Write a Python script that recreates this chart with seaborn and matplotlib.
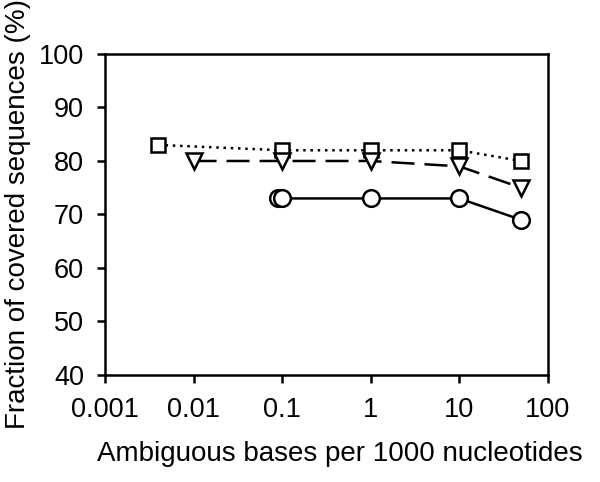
import matplotlib
matplotlib.use("Agg")
import matplotlib.pyplot as plt
import seaborn as sns
import pandas as pd

sq_x = [0.004, 0.1, 1, 10, 50]
sq_y = [83, 82, 82, 82, 80]
tri_x = [0.01, 0.1, 1, 10, 50]
tri_y = [80, 80, 80, 79, 75]
circ_x = [0.09, 0.1, 1, 10, 50]
circ_y = [73, 73, 73, 73, 69]

x_ticks = [0.001, 0.01, 0.1, 1, 10, 100]
x_tick_labels = ["0.001", "0.01", "0.1", "1", "10", "100"]
y_ticks = [40, 50, 60, 70, 80, 90, 100]

sns.set_style("white")
plt.rcParams["font.family"] = ["Liberation Sans", "DejaVu Sans"]
plt.rcParams["text.color"] = "black"
plt.rcParams["axes.labelcolor"] = "black"
plt.rcParams["xtick.color"] = "black"
plt.rcParams["ytick.color"] = "black"

fig = plt.figure(figsize=(6, 4.82), dpi=100)
ax = fig.add_axes([0.175, 0.222, 0.738, 0.666])

lw = 1.8
series = [
    (sq_x, sq_y, "s", 10.5, (1, 1.9)),
    (tri_x, tri_y, "v", 12, (9.2, 4)),
    (circ_x, circ_y, "o", 12, None),
]
for xs, ys, mk, ms, dash in series:
    df = pd.DataFrame({"x": xs, "y": ys})
    sns.lineplot(data=df, x="x", y="y", ax=ax, color="black", lw=lw,
                 marker=mk, markersize=ms, markerfacecolor="white",
                 markeredgecolor="black", markeredgewidth=1.8,
                 errorbar=None, legend=False)
    line = ax.lines[-1]
    if dash is not None:
        line.set_dashes(dash)

ax.set_xscale("log")
ax.set_xlim(0.001, 100)
ax.set_ylim(40, 100)
ax.set_xticks(x_ticks)
ax.set_xticklabels(x_tick_labels)
ax.set_yticks(y_ticks)
ax.minorticks_off()
ax.tick_params(axis="both", which="major", direction="out", length=6, width=1.8,
               labelsize=19.5, bottom=True, left=True, top=False, right=False)
ax.tick_params(axis="x", pad=10)
ax.tick_params(axis="y", pad=9)
for s in ax.spines.values():
    s.set_visible(True)
    s.set_color("black")
    s.set_linewidth(1.8)
ax.set_xlabel("Ambiguous bases per 1000 nucleotides", fontsize=20)
ax.xaxis.set_label_coords(0.53, -0.205)
ax.set_ylabel("Fraction of covered sequences (%)", fontsize=20, labelpad=6)

fig.savefig("out.png", dpi=100)
